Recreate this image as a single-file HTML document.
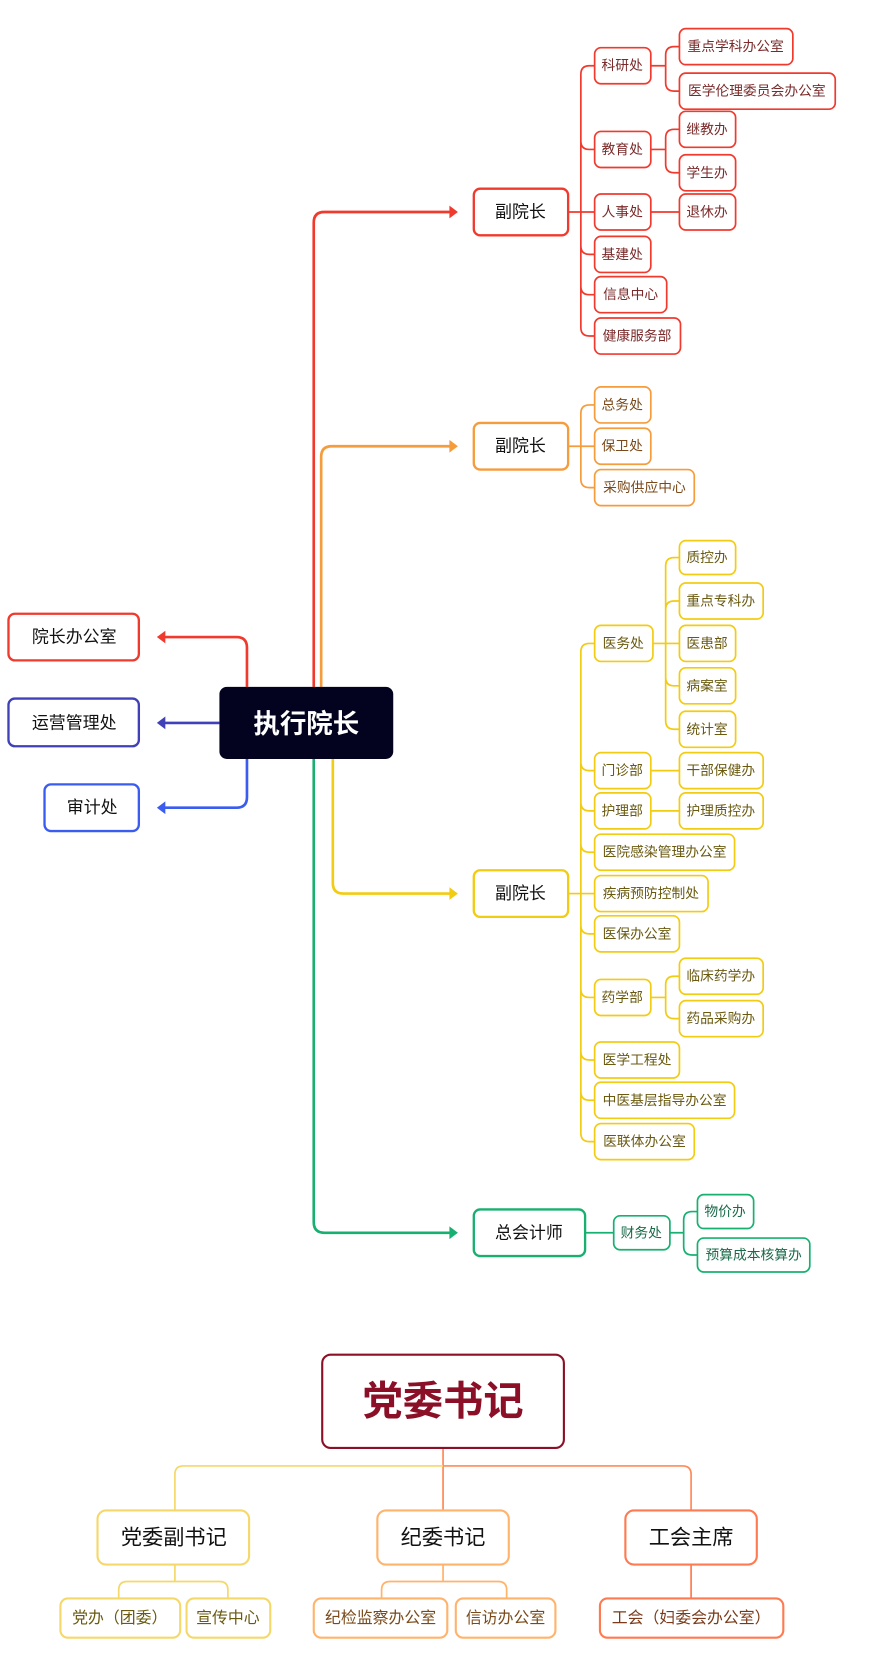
<!DOCTYPE html>
<html><head><meta charset="utf-8"><style>
html,body{margin:0;padding:0;background:#fff;}
svg{display:block}
text{font-family:"Liberation Sans","Noto Sans CJK SC",sans-serif;text-anchor:middle;dominant-baseline:central;}
</style></head><body>
<svg width="884" height="1661" viewBox="0 0 834 1567" preserveAspectRatio="none" xmlns="http://www.w3.org/2000/svg">
<g fill="none" stroke-width="2.5">
<path d="M296 648V210Q296 200 306 200H430" stroke="#f03a2e"/><path d="M424 194L432 200L424 206z" fill="#f03a2e" stroke="none"/>
<path d="M303 648V431Q303 421 313 421H430" stroke="#f59c3c"/><path d="M424 415L432 421L424 427z" fill="#f59c3c" stroke="none"/>
<path d="M314 716V833Q314 843 324 843H430" stroke="#f2cc12"/><path d="M424 837L432 843L424 849z" fill="#f2cc12" stroke="none"/>
<path d="M296 716V1153Q296 1163 306 1163H430" stroke="#17b070"/><path d="M424 1157L432 1163L424 1169z" fill="#17b070" stroke="none"/>
<path d="M233 648V611Q233 601 223 601H154" stroke="#f03a2e"/><path d="M156 595L148 601L156 607z" fill="#f03a2e" stroke="none"/>
<path d="M207 682H154" stroke="#4040b8"/><path d="M156 676L148 682L156 688z" fill="#4040b8" stroke="none"/>
<path d="M233 716V752Q233 762 223 762H154" stroke="#3b5cf0"/><path d="M156 756L148 762L156 768z" fill="#3b5cf0" stroke="none"/>
</g>
<g fill="none" stroke-width="1.6">
<g stroke="#f03a2e">
<path d="M536 200H548M548 70V309M548 70Q548 62 556 62H561M548 133Q548 141 556 141H561M548 200H561M548 232Q548 240 556 240H561M548 270Q548 278 556 278H561M548 309Q548 317 556 317H561"/>
<path d="M614 62H628M628 52V78M628 52Q628 44 636 44H641M628 78Q628 86 636 86H641"/>
<path d="M614 141H628M628 130V155M628 130Q628 122 636 122H641M628 155Q628 163 636 163H641"/>
<path d="M614 200H641"/>
</g>
<g stroke="#f59c3c">
<path d="M536 421H548M548 390V452M548 390Q548 382 556 382H561M548 421H561M548 452Q548 460 556 460H561"/>
</g>
<g stroke="#f2cc12">
<path d="M536 843H548M548 615V1069M548 615Q548 607 556 607H561M548 719Q548 727 556 727H561M548 757Q548 765 556 765H561M548 796Q548 804 556 804H561M548 843H561M548 873Q548 881 556 881H561M548 933Q548 941 556 941H561M548 992Q548 1000 556 1000H561M548 1030Q548 1038 556 1038H561M548 1069Q548 1077 556 1077H561"/>
<path d="M616 607H628M628 534V680M628 534Q628 526 636 526H641M628 575Q628 567 636 567H641M628 607H641M628 639Q628 647 636 647H641M628 680Q628 688 636 688H641"/>
<path d="M614 727H641M614 765H641"/>
<path d="M614 941H628M628 929V953M628 929Q628 921 636 921H641M628 953Q628 961 636 961H641"/>
</g>
<g stroke="#17b070">
<path d="M552 1163H579M632 1163H645M645 1151V1176M645 1151Q645 1143 653 1143H658M645 1176Q645 1184 653 1184H658"/>
</g>
<path d="M418 1366V1425M418 1383H644Q652 1383 652 1391V1425" stroke="#ff8a5a"/>
<path d="M418 1383H173Q165 1383 165 1391V1425" stroke="#f5d86a"/>
<path d="M165 1476V1492M120 1492H207Q215 1492 215 1500V1508M120 1492Q112 1492 112 1500V1508" stroke="#f5d86a"/>
<path d="M418 1476V1492M368 1492H470Q478 1492 478 1500V1508M368 1492Q360 1492 360 1500V1508" stroke="#ffb36b"/>
<path d="M652 1476V1508" stroke="#ff7a50"/>
</g>
<rect x="207" y="648" width="164" height="68" rx="7" fill="#03031f"/>
<text x="289" y="683" font-size="25" font-weight="bold" fill="#fff">执行院长</text>
<g stroke-width="2.2" fill="#fff">
<rect x="8" y="579" width="123" height="44" rx="6" stroke="#f03a2e"/>
<rect x="8" y="659" width="123" height="45" rx="6" stroke="#4040b8"/>
<rect x="42" y="740" width="89" height="44" rx="6" stroke="#3b5cf0"/>
<rect x="447" y="178" width="89" height="44" rx="6" stroke="#f03a2e"/>
<rect x="447" y="399" width="89" height="44" rx="6" stroke="#f59c3c"/>
<rect x="447" y="821" width="89" height="44" rx="6" stroke="#f2cc12"/>
<rect x="447" y="1141" width="105" height="44" rx="6" stroke="#17b070"/>
</g>
<g font-size="16" fill="#111">
<text x="70" y="601">院长办公室</text><text x="70" y="682">运营管理处</text><text x="87" y="762">审计处</text>
<text x="491" y="200">副院长</text><text x="491" y="421">副院长</text><text x="491" y="843">副院长</text><text x="499" y="1163">总会计师</text>
</g>
<g stroke-width="1.6" fill="#fff" stroke="#f03a2e">
<rect x="561" y="45" width="53" height="34" rx="6"/><rect x="561" y="124" width="53" height="34" rx="6"/><rect x="561" y="183" width="53" height="34" rx="6"/><rect x="561" y="223" width="53" height="34" rx="6"/><rect x="561" y="261" width="68" height="34" rx="6"/><rect x="561" y="300" width="81" height="34" rx="6"/>
<rect x="641" y="27" width="107" height="34" rx="6"/><rect x="641" y="69" width="147" height="34" rx="6"/><rect x="641" y="105" width="53" height="34" rx="6"/><rect x="641" y="146" width="53" height="34" rx="6"/><rect x="641" y="183" width="53" height="34" rx="6"/>
</g>
<g font-size="13" fill="#7a2a2a">
<text x="587" y="62">科研处</text><text x="587" y="141">教育处</text><text x="587" y="200">人事处</text><text x="587" y="240">基建处</text><text x="595" y="278">信息中心</text><text x="601" y="317">健康服务部</text>
<text x="694" y="44">重点学科办公室</text><text x="714" y="86">医学伦理委员会办公室</text><text x="667" y="122">继教办</text><text x="667" y="163">学生办</text><text x="667" y="200">退休办</text>
</g>
<g stroke-width="1.6" fill="#fff" stroke="#f59c3c">
<rect x="561" y="365" width="53" height="34" rx="6"/><rect x="561" y="404" width="53" height="34" rx="6"/><rect x="561" y="443" width="94" height="34" rx="6"/>
</g>
<g font-size="13" fill="#7a4a1a">
<text x="587" y="382">总务处</text><text x="587" y="421">保卫处</text><text x="608" y="460">采购供应中心</text>
</g>
<g stroke-width="1.6" fill="#fff" stroke="#f2cc12">
<rect x="561" y="590" width="55" height="34" rx="6"/><rect x="561" y="710" width="53" height="34" rx="6"/><rect x="561" y="748" width="53" height="34" rx="6"/><rect x="561" y="787" width="132" height="34" rx="6"/><rect x="561" y="826" width="107" height="34" rx="6"/><rect x="561" y="864" width="80" height="34" rx="6"/><rect x="561" y="924" width="53" height="34" rx="6"/><rect x="561" y="983" width="80" height="34" rx="6"/><rect x="561" y="1021" width="132" height="34" rx="6"/><rect x="561" y="1060" width="94" height="34" rx="6"/>
<rect x="641" y="510" width="53" height="32" rx="6"/><rect x="641" y="550" width="79" height="34" rx="6"/><rect x="641" y="590" width="53" height="34" rx="6"/><rect x="641" y="630" width="53" height="34" rx="6"/><rect x="641" y="671" width="53" height="34" rx="6"/><rect x="641" y="710" width="79" height="34" rx="6"/><rect x="641" y="748" width="79" height="34" rx="6"/><rect x="641" y="904" width="79" height="34" rx="6"/><rect x="641" y="944" width="79" height="34" rx="6"/>
</g>
<g font-size="13" fill="#6a5a10">
<text x="588" y="607">医务处</text><text x="587" y="727">门诊部</text><text x="587" y="765">护理部</text><text x="627" y="804">医院感染管理办公室</text><text x="614" y="843">疾病预防控制处</text><text x="601" y="881">医保办公室</text><text x="587" y="941">药学部</text><text x="601" y="1000">医学工程处</text><text x="627" y="1038">中医基层指导办公室</text><text x="608" y="1077">医联体办公室</text>
<text x="667" y="526">质控办</text><text x="680" y="567">重点专科办</text><text x="667" y="607">医患部</text><text x="667" y="647">病案室</text><text x="667" y="688">统计室</text><text x="680" y="727">干部保健办</text><text x="680" y="765">护理质控办</text><text x="680" y="921">临床药学办</text><text x="680" y="961">药品采购办</text>
</g>
<g stroke-width="1.6" fill="#fff" stroke="#17b070">
<rect x="579" y="1147" width="53" height="32" rx="6"/><rect x="658" y="1127" width="53" height="32" rx="6"/><rect x="658" y="1168" width="106" height="32" rx="6"/>
</g>
<g font-size="13" fill="#1a6a4a">
<text x="605" y="1163">财务处</text><text x="684" y="1143">物价办</text><text x="711" y="1184">预算成本核算办</text>
</g>
<rect x="304" y="1278" width="228" height="88" rx="8" fill="#fff" stroke="#8b1027" stroke-width="2"/>
<text x="418" y="1322" font-size="38" font-weight="bold" fill="#8b1027">党委书记</text>
<g stroke-width="2" fill="#fff">
<rect x="92" y="1425" width="143" height="51" rx="8" stroke="#f5d86a"/>
<rect x="356" y="1425" width="124" height="51" rx="8" stroke="#ffb36b"/>
<rect x="590" y="1425" width="124" height="51" rx="8" stroke="#ff7a50"/>
<rect x="57" y="1508" width="113" height="37" rx="7" stroke="#f5d86a"/>
<rect x="176" y="1508" width="79" height="37" rx="7" stroke="#f5d86a"/>
<rect x="296" y="1508" width="126" height="37" rx="7" stroke="#ffb36b"/>
<rect x="430" y="1508" width="94" height="37" rx="7" stroke="#ffb36b"/>
<rect x="566" y="1508" width="173" height="37" rx="7" stroke="#ff7a50"/>
</g>
<g font-size="20" fill="#111">
<text x="164" y="1451">党委副书记</text><text x="418" y="1451">纪委书记</text><text x="652" y="1451">工会主席</text>
</g>
<g font-size="15">
<text x="113" y="1527" fill="#6a5a10">党办（团委）</text><text x="215" y="1527" fill="#6a5a10">宣传中心</text>
<text x="359" y="1527" fill="#7a4a1a">纪检监察办公室</text><text x="477" y="1527" fill="#7a4a1a">信访办公室</text>
<text x="652" y="1527" fill="#7a3a1a">工会（妇委会办公室）</text>
</g>
</svg>
</body></html>
